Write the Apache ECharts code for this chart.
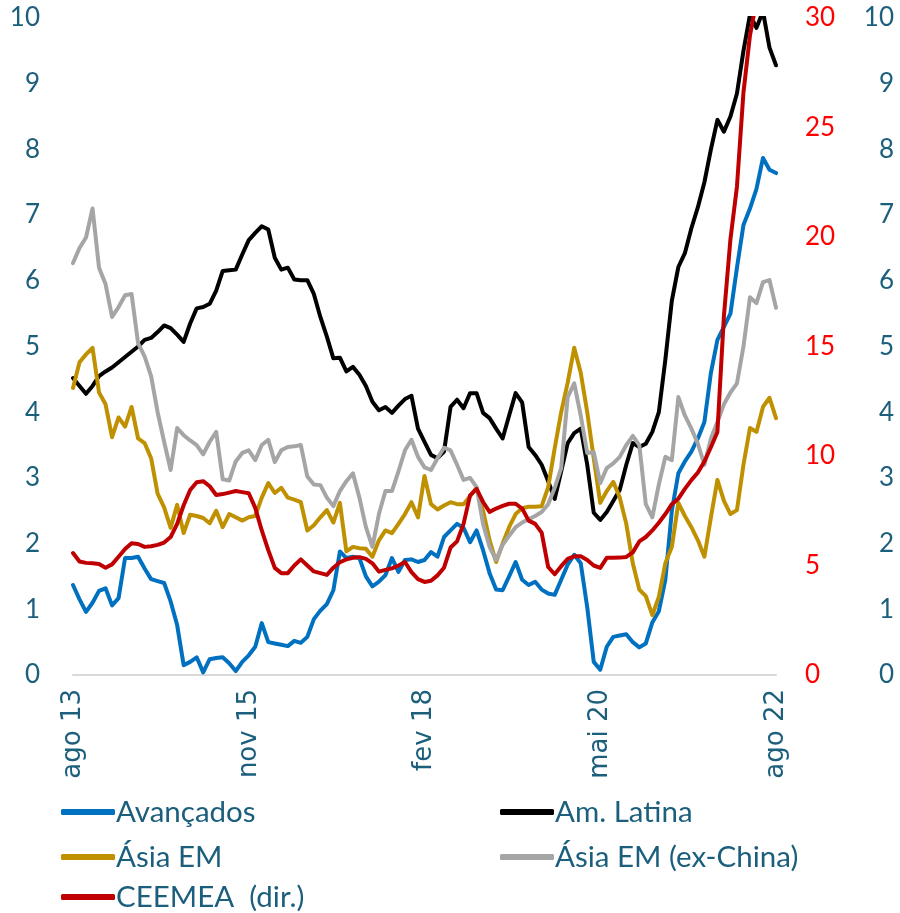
<!DOCTYPE html>
<html>
<head>
<meta charset="utf-8">
<script src="https://cdn.jsdelivr.net/npm/echarts@6/dist/echarts.min.js"></script>
<style>
  html, body { margin: 0; padding: 0; background: #fff; }
  #chart { width: 900px; height: 913px; }
</style>
</head>
<body>
<div id="chart"></div>
<script>
// meses ago/13 .. ago/22 (mensal)
var mesesPt = ['jan', 'fev', 'mar', 'abr', 'mai', 'jun', 'jul', 'ago', 'set', 'out', 'nov', 'dez'];
var categorias = [];
for (var k = 0; k < 109; k++) {
    var m = (7 + k) % 12;
    var a = 13 + Math.floor((7 + k) / 12);
    categorias.push(mesesPt[m] + ' ' + a);
}

var avancados = [
    1.37, 1.15, 0.96, 1.10, 1.28, 1.32, 1.06, 1.17, 1.78, 1.78,
    1.80, 1.62, 1.46, 1.43, 1.40, 1.12, 0.76, 0.15, 0.20, 0.27,
    0.04, 0.24, 0.26, 0.27, 0.18, 0.06, 0.20, 0.30, 0.43, 0.79,
    0.50, 0.48, 0.46, 0.44, 0.52, 0.49, 0.58, 0.85, 0.98, 1.08,
    1.29, 1.88, 1.78, 1.80, 1.78, 1.50, 1.35, 1.42, 1.52, 1.78,
    1.57, 1.75, 1.76, 1.72, 1.75, 1.87, 1.80, 2.10, 2.20, 2.30,
    2.24, 2.02, 2.20, 1.90, 1.55, 1.30, 1.29, 1.50, 1.72, 1.45,
    1.37, 1.42, 1.30, 1.24, 1.22, 1.45, 1.68, 1.83, 1.70, 1.03,
    0.20, 0.08, 0.43, 0.58, 0.60, 0.62, 0.50, 0.42, 0.48, 0.80,
    0.97, 1.45, 2.50, 3.07, 3.25, 3.40, 3.60, 3.85, 4.60, 5.10,
    5.30, 5.50, 6.20, 6.85, 7.10, 7.40, 7.87, 7.69, 7.64
];
var amLatina = [
    4.52, 4.40, 4.28, 4.40, 4.55, 4.62, 4.68, 4.76, 4.84, 4.92,
    5.00, 5.10, 5.13, 5.22, 5.32, 5.28, 5.18, 5.07, 5.35, 5.58,
    5.60, 5.65, 5.85, 6.15, 6.16, 6.17, 6.40, 6.62, 6.73, 6.83,
    6.78, 6.35, 6.17, 6.20, 6.02, 6.01, 6.01, 5.80, 5.45, 5.15,
    4.82, 4.83, 4.62, 4.69, 4.57, 4.40, 4.16, 4.03, 4.08, 3.99,
    4.10, 4.20, 4.25, 3.75, 3.55, 3.35, 3.30, 3.40, 4.08, 4.19,
    4.06, 4.29, 4.29, 3.99, 3.91, 3.75, 3.60, 3.95, 4.29, 4.15,
    3.47, 3.35, 3.20, 2.95, 2.68, 3.10, 3.53, 3.68, 3.75, 3.20,
    2.47, 2.36, 2.48, 2.65, 2.82, 3.20, 3.53, 3.47, 3.52, 3.70,
    4.00, 4.80, 5.70, 6.21, 6.42, 6.80, 7.12, 7.50, 8.00, 8.45,
    8.27, 8.50, 8.85, 9.50, 10.05, 9.85, 10.10, 9.55, 9.28
];
var asiaEM = [
    4.37, 4.76, 4.88, 4.98, 4.30, 4.12, 3.62, 3.92, 3.78, 4.08,
    3.60, 3.53, 3.30, 2.76, 2.55, 2.24, 2.59, 2.16, 2.44, 2.42,
    2.39, 2.31, 2.50, 2.25, 2.45, 2.40, 2.35, 2.40, 2.42, 2.70,
    2.92, 2.77, 2.85, 2.70, 2.67, 2.63, 2.20, 2.28, 2.40, 2.51,
    2.32, 2.62, 1.88, 1.95, 1.93, 1.92, 1.80, 2.05, 2.20, 2.16,
    2.30, 2.45, 2.63, 2.40, 3.03, 2.60, 2.52, 2.58, 2.63, 2.60,
    2.60, 2.72, 2.85, 2.50, 2.05, 1.72, 2.00, 2.25, 2.45, 2.54,
    2.56, 2.56, 2.57, 2.86, 3.45, 4.00, 4.45, 4.98, 4.60, 4.00,
    3.30, 2.62, 2.80, 2.94, 2.70, 2.30, 1.70, 1.30, 1.20, 0.91,
    1.19, 1.70, 1.95, 2.62, 2.42, 2.25, 2.05, 1.80, 2.40, 2.97,
    2.65, 2.45, 2.51, 3.20, 3.76, 3.70, 4.08, 4.22, 3.91
];
var asiaExChina = [
    6.27, 6.50, 6.66, 7.10, 6.20, 5.95, 5.45, 5.60, 5.78, 5.80,
    5.05, 4.85, 4.55, 4.00, 3.55, 3.12, 3.76, 3.65, 3.57, 3.50,
    3.36, 3.55, 3.70, 2.98, 2.96, 3.25, 3.38, 3.42, 3.27, 3.50,
    3.58, 3.24, 3.42, 3.47, 3.48, 3.50, 3.02, 2.90, 2.89, 2.70,
    2.57, 2.80, 2.95, 3.07, 2.70, 2.25, 1.95, 2.45, 2.80, 2.80,
    3.10, 3.42, 3.58, 3.32, 3.16, 3.12, 3.30, 3.46, 3.42, 3.20,
    2.97, 3.00, 2.86, 2.30, 1.95, 1.75, 1.98, 2.12, 2.25, 2.32,
    2.37, 2.42, 2.48, 2.60, 2.85, 3.15, 4.23, 4.44, 3.95, 3.38,
    3.39, 2.92, 3.15, 3.22, 3.32, 3.50, 3.64, 3.50, 2.60, 2.40,
    2.90, 3.32, 3.27, 4.23, 3.95, 3.75, 3.52, 3.20, 3.60, 3.85,
    4.12, 4.30, 4.44, 5.00, 5.75, 5.66, 5.98, 6.01, 5.59
];
// eixo da direita
var ceemea = [
    5.57, 5.18, 5.12, 5.10, 5.07, 4.90, 5.05, 5.40, 5.75, 6.02,
    5.98, 5.85, 5.88, 5.94, 6.05, 6.30, 6.90, 7.75, 8.45, 8.80,
    8.85, 8.62, 8.22, 8.26, 8.33, 8.40, 8.35, 8.30, 7.63, 6.60,
    5.70, 4.89, 4.65, 4.65, 5.00, 5.28, 5.00, 4.73, 4.65, 4.57,
    4.90, 5.15, 5.28, 5.35, 5.38, 5.30, 5.10, 4.72, 4.80, 4.87,
    5.00, 5.16, 4.70, 4.38, 4.25, 4.30, 4.55, 4.90, 5.82, 6.10,
    6.90, 8.20, 8.50, 7.90, 7.45, 7.60, 7.72, 7.82, 7.82, 7.60,
    7.05, 6.90, 6.50, 4.93, 4.60, 4.97, 5.30, 5.42, 5.42, 5.25,
    5.00, 4.89, 5.35, 5.35, 5.36, 5.39, 5.60, 6.10, 6.30, 6.60,
    6.95, 7.35, 7.80, 8.05, 8.50, 8.90, 9.25, 9.75, 10.40, 11.10,
    16.40, 19.90, 22.30, 26.60, 29.20, 30.80, 32.00, 33.00, 33.00
];

var esqTicks = [0, 10];
var dirTicks = [0, 30];

var azul = '#1b5f7c';
var fonte = 'Lato, "Noto Sans", sans-serif';

var chartDom = document.getElementById('chart');
var mychart = echarts.init(chartDom);

function serie(nome, dados, cor, eixo) {
    return {
        name: nome,
        type: 'line',
        yAxisIndex: eixo,
        data: dados,
        symbol: 'none',
        clip: true,
        animation: false,
        lineStyle: { color: cor, width: 4, join: 'round', cap: 'round' },
        itemStyle: { color: cor }
    };
}

// uma legenda por item, para ficar em duas colunas como no original
function legenda(nome, esquerda, topo) {
    return {
        left: esquerda,
        top: topo,
        data: [nome],
        icon: 'roundRect',
        itemWidth: 54,
        itemHeight: 6,
        textStyle: { color: azul, fontSize: 29.5, fontFamily: fonte, padding: [0, 0, 0, -4] }
    };
}

var option = {
    backgroundColor: '#fff',
    grid: { left: 73, right: 124, top: 18, bottom: 238, containLabel: false },
    legend: [
        legenda('Avançados', 56, 792),
        legenda('Am. Latina', 495, 792),
        legenda('Ásia EM', 56, 837),
        legenda('Ásia EM (ex-China)', 495, 837),
        legenda('CEEMEA  (dir.)', 56, 877)
    ],
    xAxis: {
        type: 'category',
        boundaryGap: false,
        data: categorias,
        axisLine: { lineStyle: { color: '#d9d9d9', width: 2 } },
        axisTick: { show: false },
        axisLabel: {
            interval: 26,
            rotate: 90,
            margin: 14,
            color: azul,
            fontSize: 26,
            fontFamily: '"DejaVu Sans", sans-serif'
        }
    },
    yAxis: [
        {
            type: 'value', min: esqTicks[0], max: esqTicks[1], interval: 1,
            axisLine: { show: false }, axisTick: { show: false }, splitLine: { show: false },
            axisLabel: { color: azul, fontSize: 26, fontFamily: fonte, margin: 33 }
        },
        {
            type: 'value', position: 'right', min: dirTicks[0], max: dirTicks[1], interval: 5,
            axisLine: { show: false }, axisTick: { show: false }, splitLine: { show: false },
            axisLabel: { color: '#ff0000', fontSize: 26, fontFamily: fonte, margin: 29 }
        },
        {
            type: 'value', position: 'right', min: esqTicks[0], max: esqTicks[1], interval: 1,
            axisLine: { show: false }, axisTick: { show: false }, splitLine: { show: false },
            axisLabel: { color: azul, fontSize: 26, fontFamily: fonte, margin: 118, align: 'right' }
        }
    ],
    series: [
        serie('Avançados', avancados, '#0070c0', 0),
        serie('Am. Latina', amLatina, '#000000', 0),
        serie('Ásia EM', asiaEM, '#bf9000', 0),
        serie('Ásia EM (ex-China)', asiaExChina, '#a5a5a5', 0),
        serie('CEEMEA  (dir.)', ceemea, '#c00000', 1)
    ]
};

option && mychart.setOption(option);
</script>
</body>
</html>
